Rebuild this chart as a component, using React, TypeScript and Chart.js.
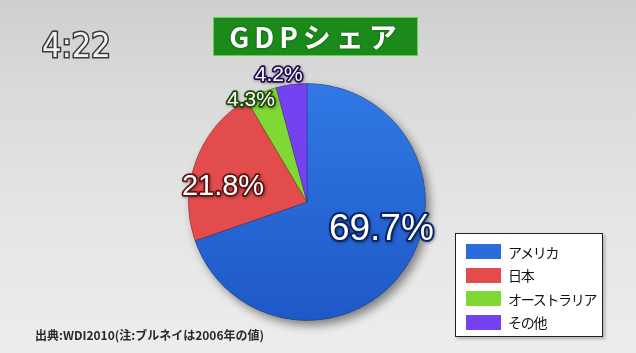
import React, { useEffect, useRef } from "react";
import { Chart, registerables } from "chart.js";

Chart.register(...registerables);

const categories = ["アメリカ", "日本", "オーストラリア", "その他"];
const shares = [69.7, 21.8, 4.3, 4.2];
const shareLabels = ["69.7%", "21.8%", "4.3%", "4.2%"];
const sliceColors = ["#2a6cdc", "#e24c4c", "#80d834", "#7442f0"];
const titleText = "GDPシェア";
const clockText = "4:22";
const sourceText = "出典:WDI2010(注:ブルネイは2006年の値)";

// label style per slice (angle offset in degrees from slice middle, radius fraction, font size, outline)
const labelStyles = [
  { dAngle: -15, rf: 0.67, size: 37, stroke: "#0c2466" },
  { dAngle: -10, rf: 0.72, size: 29, stroke: "#5a1414" },
  { dAngle: -6, rf: 0.98, size: 21, stroke: "#1c4a08" },
  { dAngle: -5, rf: 1.1, size: 21, stroke: "#24105a" },
];

const shadowPlugin = {
  id: "pieShadow",
  beforeDatasetsDraw(chart: any) {
    const el = chart.getDatasetMeta(0).data[0];
    if (!el) return;
    const { x, y, outerRadius } = el.getProps(["x", "y", "outerRadius"], true);
    const ctx = chart.ctx;
    ctx.save();
    ctx.shadowColor = "rgba(0,0,0,0.45)";
    ctx.shadowBlur = 10;
    ctx.shadowOffsetX = 4;
    ctx.shadowOffsetY = 5;
    ctx.beginPath();
    ctx.arc(x, y, outerRadius, 0, Math.PI * 2);
    ctx.fillStyle = "#555";
    ctx.fill();
    ctx.restore();
  },
};

const labelPlugin = {
  id: "sliceLabels",
  afterDatasetsDraw(chart: any) {
    const ctx = chart.ctx;
    const meta = chart.getDatasetMeta(0);
    meta.data.forEach((el: any, i: number) => {
      const { x, y, startAngle, endAngle, outerRadius } = el.getProps(
        ["x", "y", "startAngle", "endAngle", "outerRadius"],
        true
      );
      const st = labelStyles[i];
      const a = (startAngle + endAngle) / 2 + (st.dAngle * Math.PI) / 180;
      const lx = x + Math.cos(a) * outerRadius * st.rf;
      const ly = y + Math.sin(a) * outerRadius * st.rf;
      ctx.save();
      ctx.font = `${st.size}px "Liberation Sans", Arial, sans-serif`;
      ctx.textAlign = "center";
      ctx.textBaseline = "middle";
      ctx.lineJoin = "round";
      ctx.shadowColor = "rgba(0,0,0,0.35)";
      ctx.shadowBlur = 3;
      ctx.shadowOffsetX = 1;
      ctx.shadowOffsetY = 1;
      ctx.lineWidth = st.size > 30 ? 4 : 3.5;
      ctx.strokeStyle = st.stroke;
      ctx.strokeText(shareLabels[i], lx, ly);
      ctx.shadowColor = "transparent";
      ctx.fillStyle = "#ffffff";
      ctx.fillText(shareLabels[i], lx, ly);
      ctx.restore();
    });
  },
};

export default function App() {
  const ref = useRef<HTMLCanvasElement>(null);
  useEffect(() => {
    if (!ref.current) return;
    const chart = new Chart(ref.current, {
      type: "pie",
      data: {
        labels: categories,
        datasets: [
          {
            data: shares,
            backgroundColor: (c: any) => {
              const i = c.dataIndex;
              const area = c.chart.chartArea;
              if (!area || i !== 0) return sliceColors[i];
              const g = c.chart.ctx.createLinearGradient(0, area.top, 0, area.bottom);
              g.addColorStop(0, "#3079e6");
              g.addColorStop(1, "#1e58c6");
              return g;
            },
            borderWidth: 1,
            borderColor: "rgba(0,0,0,0.2)",
          },
        ],
      },
      options: {
        animation: false,
        responsive: false,
        maintainAspectRatio: false,
        layout: { padding: { left: 188, right: 210, top: 83, bottom: 32 } },
        plugins: {
          legend: { display: false },
          tooltip: { enabled: false },
          title: { display: false },
        },
      },
      plugins: [shadowPlugin, labelPlugin],
    });
    return () => chart.destroy();
  }, []);

  const jp = '"Noto Sans CJK JP", "Noto Sans", sans-serif';
  return (
    <div
      style={{
        position: "fixed",
        left: 0,
        top: 0,
        width: 636,
        height: 353,
        overflow: "hidden",
        background: "linear-gradient(180deg, #cfcfcf 0%, #dadada 25%, #e6e6e6 65%, #ededed 100%)",
      }}
    >
      <canvas ref={ref} width={636} height={353} style={{ position: "absolute", left: 0, top: 0 }} />
      <div
        style={{
          position: "absolute",
          left: 42,
          top: 25,
          fontFamily: '"DejaVu Sans Condensed", "Liberation Sans Narrow", sans-serif',
          fontSize: 34,
          color: "#f2f2f2",
          WebkitTextStroke: "3px #3a3a3a",
          paintOrder: "stroke fill",
          lineHeight: "40px",
          whiteSpace: "nowrap",
        }}
      >
        {clockText}
      </div>
      <div
        style={{
          position: "absolute",
          left: 213,
          top: 17,
          width: 205,
          height: 39,
          boxSizing: "border-box",
          background: "#1b8a1b",
          border: "1px solid #5fd54a",
          color: "#ffffff",
          fontFamily: jp,
          fontWeight: 700,
          fontSize: 28,
          letterSpacing: 5,
          lineHeight: "37px",
          textAlign: "center",
          textShadow: "0 0 2px #0a400a",
        }}
      >
        {titleText}
      </div>
      <div
        style={{
          position: "absolute",
          left: 455,
          top: 233,
          width: 148,
          height: 104,
          boxSizing: "border-box",
          background: "#ffffff",
          border: "1.5px solid #222",
          padding: "6px 0 0 10px",
          boxShadow: "2px 2px 3px rgba(0,0,0,0.25)",
        }}
      >
        {categories.map((c, i) => (
          <div key={c} style={{ display: "flex", alignItems: "center", height: 23.5 }}>
            <div style={{ width: 35, height: 15, background: sliceColors[i], marginRight: 7, flex: "none" }} />
            <span
              style={{
                fontFamily: jp,
                fontSize: 14,
                letterSpacing: -1.3,
                color: "#111",
                lineHeight: "20px",
                whiteSpace: "nowrap",
              }}
            >
              {c}
            </span>
          </div>
        ))}
      </div>
      <div
        style={{
          position: "absolute",
          left: 35,
          top: 327,
          fontFamily: jp,
          fontWeight: 700,
          fontSize: 12,
          color: "#2a2a2a",
          lineHeight: "16px",
          whiteSpace: "nowrap",
        }}
      >
        {sourceText}
      </div>
    </div>
  );
}
